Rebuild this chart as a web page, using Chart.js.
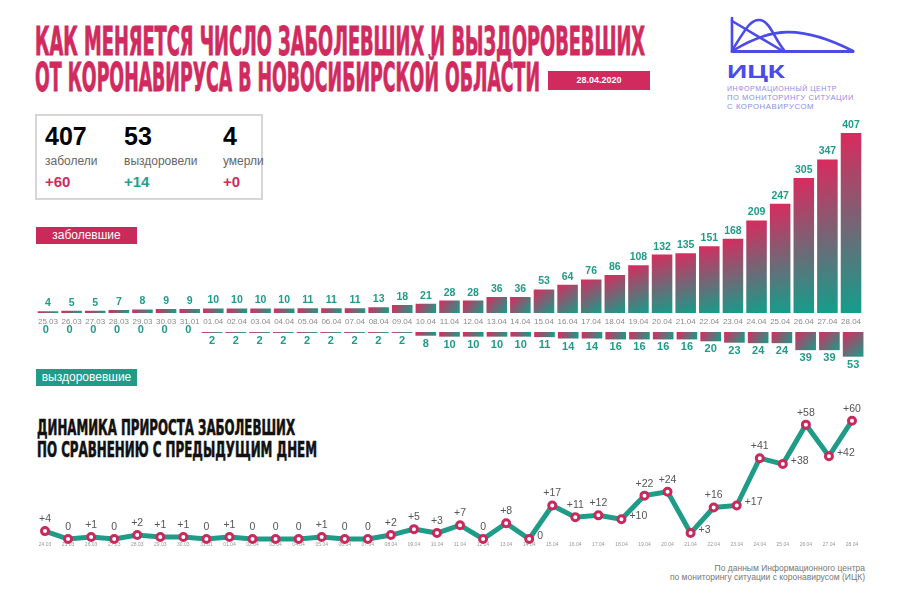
<!DOCTYPE html>
<html lang="ru">
<head>
<meta charset="UTF-8">
<title>Заболевшие и выздоровевшие — Новосибирская область</title>
<script src="https://cdn.jsdelivr.net/npm/chart.js"></script>
<style>
  html, body { margin: 0; padding: 0; background: #fff; }
  #page { position: relative; width: 900px; height: 600px; overflow: hidden; font-family: "Liberation Sans", Arial, sans-serif; }
  .abs { position: absolute; white-space: nowrap; line-height: 1; }
  .fit { display: inline-block; transform-origin: 0 0; }
  .title { font-family: "Liberation Sans Narrow", "DejaVu Sans Condensed", "Liberation Sans", sans-serif; font-weight: bold; color: #d12a5e; font-size: 39px; -webkit-text-stroke: 0.9px #d12a5e; }
  .sub { font-family: "Liberation Sans Narrow", "DejaVu Sans Condensed", "Liberation Sans", sans-serif; font-weight: bold; color: #111; font-size: 22px; -webkit-text-stroke: 0.6px #111; }
  .big { font-size: 25px; font-weight: bold; color: #000; }
  .cap { font-size: 12px; color: #666; }
  .delta { font-size: 15px; font-weight: bold; }
  .tag { position: absolute; color: #fff; font-size: 12px; text-align: center; line-height: 17px; height: 17px; }
  .logo-s { font-size: 8px; color: #8c8ce8; letter-spacing: 0.6px; }
  canvas { position: absolute; }
</style>
</head>
<body>
<div id="page">
  <div class="abs title fit" data-w="610" style="left:35px; top:22px;">КАК МЕНЯЕТСЯ ЧИСЛО ЗАБОЛЕВШИХ И ВЫЗДОРОВЕВШИХ</div>
  <div class="abs title fit" data-w="505" style="left:35px; top:58px;">ОТ КОРОНАВИРУСА В НОВОСИБИРСКОЙ ОБЛАСТИ</div>
  <div class="tag" style="left:548px; top:71px; width:102px; height:19px; line-height:19px; background:#d12a5e; font-size:9px; font-weight:bold;">28.04.2020</div>

  <svg class="abs" style="left:0; top:0;" width="900" height="60">
    <g fill="none" stroke="#4b4be8" stroke-width="2.6" stroke-linecap="round">
      <path d="M732,18 L732,51"/>
      <path d="M732,21 L781,50"/>
      <path d="M733,49 C746,28 751,19 760,20 C770,21 775,40 784,50"/>
      <path d="M734,50 C770,28 800,24 853,51"/>
      <path d="M732,51.5 L853,51.5" stroke-width="3"/>
    </g>
  </svg>
  <div class="abs fit" data-w="58" style="left:727px; top:63px; font-size:18px; font-weight:bold; color:#4b4be8;">ИЦК</div>
  <div class="abs logo-s fit" data-w="110" style="left:727px; top:85px;">ИНФОРМАЦИОННЫЙ ЦЕНТР</div>
  <div class="abs logo-s fit" data-w="127" style="left:727px; top:94px;">ПО МОНИТОРИНГУ СИТУАЦИИ</div>
  <div class="abs logo-s fit" data-w="87" style="left:727px; top:103px;">С КОРОНАВИРУСОМ</div>

  <div class="abs" style="left:35px; top:114px; width:224px; height:82px; border:2px solid #d6d6d6;"></div>
  <div class="abs big" style="left:45px; top:124px;">407</div>
  <div class="abs cap" style="left:45px; top:155px;">заболели</div>
  <div class="abs delta" style="left:45px; top:174px; color:#cf2a62;">+60</div>
  <div class="abs big" style="left:124px; top:124px;">53</div>
  <div class="abs cap" style="left:124px; top:155px;">выздоровели</div>
  <div class="abs delta" style="left:124px; top:174px; color:#23a08b;">+14</div>
  <div class="abs big" style="left:223px; top:124px;">4</div>
  <div class="abs cap" style="left:223px; top:155px;">умерли</div>
  <div class="abs delta" style="left:223px; top:174px; color:#cf2a62;">+0</div>

  <div class="tag" style="left:36px; top:227px; width:101px; background:#c92a5a;">заболевшие</div>
  <div class="tag" style="left:36px; top:369px; width:101px; background:#1e9c88;">выздоровевшие</div>

  <canvas id="casesChart" width="831" height="216" style="left:34px; top:115px;"></canvas>
  <canvas id="recChart" width="831" height="56" style="left:34px; top:322px;"></canvas>

  <div class="abs sub fit" data-w="258" style="left:37px; top:417px;">ДИНАМИКА ПРИРОСТА ЗАБОЛЕВШИХ</div>
  <div class="abs sub fit" data-w="280" style="left:37px; top:439px;">ПО СРАВНЕНИЮ С ПРЕДЫДУЩИМ ДНЕМ</div>

  <canvas id="growthChart" width="847" height="156" style="left:25px; top:395px;"></canvas>

  <div class="abs" style="right:35px; top:564px; font-size:8.5px; color:#777; text-align:right;">По данным Информационного центра</div>
  <div class="abs" style="right:35px; top:573px; font-size:8.5px; color:#777; text-align:right;">по мониторингу ситуации с коронавирусом (ИЦК)</div>
</div>

<script>
  // Data
  const dates = ['25.03', '26.03', '27.03', '28.03', '29.03', '30.03', '31.01',
    '01.04', '02.04', '03.04', '04.04', '05.04', '06.04', '07.04', '08.04', '09.04', '10.04',
    '11.04', '12.04', '13.04', '14.04', '15.04', '16.04', '17.04', '18.04', '19.04', '20.04',
    '21.04', '22.04', '23.04', '24.04', '25.04', '26.04', '27.04', '28.04'];
  const cases = [4, 5, 5, 7, 8, 9, 9, 10, 10, 10, 10, 11, 11, 11, 13, 18, 21, 28, 28, 36, 36,
    53, 64, 76, 86, 108, 132, 135, 151, 168, 209, 247, 305, 347, 407];
  const recovered = [0, 0, 0, 0, 0, 0, 0, 2, 2, 2, 2, 2, 2, 2, 2, 2, 8, 10, 10, 10, 10,
    11, 14, 14, 16, 16, 16, 16, 20, 23, 24, 24, 39, 39, 53];

  const growthDates = ['24.03', ...dates];
  const growth = [4, 0, 1, 0, 2, 1, 1, 0, 1, 0, 0, 0, 1, 0, 0, 2, 5, 3, 7, 0, 8, 0,
    17, 11, 12, 10, 22, 24, 3, 16, 17, 41, 38, 58, 42, 60];
  // points whose label sits to the right instead of above
  const rightLabels = [21, 25, 28, 30, 32, 34];

  const CRIMSON = '#da2a5e';
  const TEAL = '#1f9c88';
  const BAR_PCT = 0.87;

  Chart.defaults.font.family = '"Liberation Sans", Arial, sans-serif';

  // diagonal crimson -> teal fill for every bar
  function barGradient(ctx) {
    const chart = ctx.chart;
    if (!chart.chartArea || ctx.type !== 'data') return '#a0607a';
    const xs = chart.scales.x, ys = chart.scales.y;
    const x = xs.getPixelForValue(ctx.dataIndex);
    const half = xs.width / dates.length * BAR_PCT / 2;
    const y0 = ys.getPixelForValue(0), y1 = ys.getPixelForValue(ctx.raw);
    const top = Math.min(y0, y1), bot = Math.max(y0, y1) + 0.5;
    const g = chart.ctx.createLinearGradient(x - half, top, x + half, bot);
    g.addColorStop(0, CRIMSON);
    g.addColorStop(1, '#129f8b');
    return g;
  }

  const barLabels = {
    id: 'barLabels',
    afterDatasetsDraw(chart, args, opts) {
      const c = chart.ctx;
      const vals = chart.data.datasets[0].data;
      c.save();
      c.font = 'bold ' + opts.size + 'px "Liberation Sans", Arial, sans-serif';
      c.fillStyle = TEAL;
      c.textAlign = 'center';
      c.textBaseline = 'middle';
      chart.getDatasetMeta(0).data.forEach((el, i) => {
        const v = vals[i];
        let y;
        if (opts.down) y = v === 0 ? el.base - 2 : el.y + 8;
        else y = el.y - 8;
        c.fillText(String(v), el.x, y);
      });
      c.restore();
    }
  };

  const pointLabels = {
    id: 'pointLabels',
    afterDatasetsDraw(chart) {
      const c = chart.ctx;
      c.save();
      c.font = '10.5px "Liberation Sans", Arial, sans-serif';
      c.fillStyle = '#555';
      c.textBaseline = 'middle';
      chart.getDatasetMeta(0).data.forEach((el, i) => {
        const v = growth[i];
        const txt = v === 0 ? '0' : '+' + v;
        if (rightLabels.includes(i)) {
          c.textAlign = 'left';
          c.fillText(txt, el.x + 8, el.y - 3);
        } else {
          c.textAlign = 'center';
          c.fillText(txt, el.x, el.y - 12);
        }
      });
      c.restore();
    }
  };

  new Chart(document.getElementById('casesChart'), {
    type: 'bar',
    data: {
      labels: dates,
      datasets: [{ data: cases, backgroundColor: barGradient, borderWidth: 0,
        barPercentage: BAR_PCT, categoryPercentage: 1 }]
    },
    options: {
      responsive: false,
      animation: false,
      layout: { padding: { top: 18, left: 0, right: 0, bottom: 0 } },
      plugins: { legend: { display: false }, tooltip: { enabled: false }, barLabels: { size: 10.5 } },
      scales: {
        x: {
          grid: { display: false, drawTicks: false },
          border: { display: false },
          ticks: { color: '#8a8a8a', font: { size: 8 }, padding: 4, maxRotation: 0, autoSkip: false },
          afterFit: (s) => { s.height = 18; }
        },
        y: { display: false, min: 0, max: 407 }
      }
    },
    plugins: [barLabels]
  });

  new Chart(document.getElementById('recChart'), {
    type: 'bar',
    data: {
      labels: dates,
      datasets: [{ data: recovered, backgroundColor: barGradient, borderWidth: 0,
        barPercentage: BAR_PCT, categoryPercentage: 1 }]
    },
    options: {
      responsive: false,
      animation: false,
      layout: { padding: { top: 10, left: 0, right: 0, bottom: 14 } },
      plugins: { legend: { display: false }, tooltip: { enabled: false }, barLabels: { size: 11, down: true } },
      scales: {
        x: { display: false },
        y: { display: false, reverse: true, min: 0, max: 68.7 }
      }
    },
    plugins: [barLabels]
  });

  new Chart(document.getElementById('growthChart'), {
    type: 'line',
    data: {
      labels: growthDates,
      datasets: [{
        data: growth,
        borderColor: TEAL,
        borderWidth: 5,
        tension: 0,
        pointRadius: 3.5,
        pointBorderWidth: 3,
        pointBackgroundColor: '#fff',
        pointBorderColor: '#c92a5c',
        clip: false
      }]
    },
    options: {
      responsive: false,
      animation: false,
      layout: { padding: { top: 20, left: 20, right: 20, bottom: 0 } },
      plugins: { legend: { display: false }, tooltip: { enabled: false } },
      scales: {
        x: {
          offset: false,
          grid: { display: false, drawTicks: false },
          border: { display: false },
          ticks: { color: '#999', font: { size: 5 }, padding: 3, maxRotation: 0, autoSkip: false },
          afterFit: (s) => { s.height = 12; }
        },
        y: { display: false, min: 0, max: 62.9 }
      }
    },
    plugins: [pointLabels]
  });

  // squeeze the headline texts to the widths they take in the picture
  document.querySelectorAll('.fit').forEach((el) => {
    const w = el.getBoundingClientRect().width;
    const target = parseFloat(el.dataset.w);
    if (w > 0) el.style.transform = 'scaleX(' + (target / w) + ')';
  });
</script>
</body>
</html>
